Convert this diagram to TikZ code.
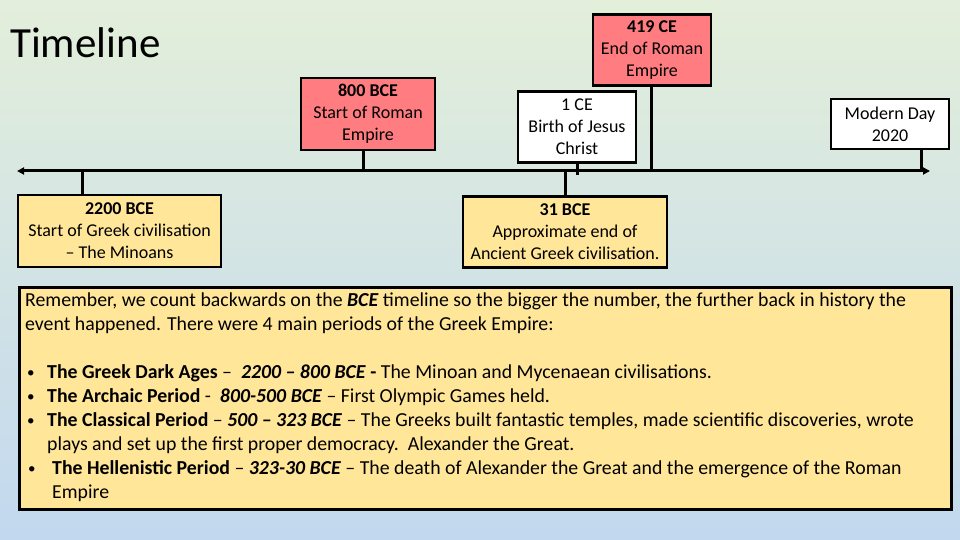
\documentclass[tikz,border=0pt]{standalone}
\usepackage{fontspec}
\setmainfont{Carlito}
\usetikzlibrary{arrows.meta, positioning, calc}
\definecolor{tlyellow}{HTML}{FFE699}
\definecolor{tlred}{HTML}{FF7C80}
\definecolor{bgtop}{HTML}{E3EFDA}
\definecolor{bgbot}{HTML}{C2D8EF}
\newcommand{\tlbullet}[1]{\hspace*{#1}\makebox[20pt][l]{\raisebox{1pt}{\fontsize{15}{15}\selectfont\textbullet}}}

\begin{document}
\begin{tikzpicture}[
    x=1pt, y=-1pt,
    box/.style={draw=black, line width=2.5pt, align=center, inner sep=2pt,
                font=\fontsize{18}{22}\selectfont},
    greek/.style={box, fill=tlyellow, minimum width=203pt, minimum height=72pt},
    roman/.style={box, fill=tlred, minimum width=118pt, minimum height=71pt},
    plain/.style={box, fill=white, minimum width=118pt, minimum height=71pt},
    stem/.style={draw=black, line width=3pt},
    tline/.style={draw=black, line width=3pt,
                  {Triangle[length=7pt,width=7pt]}-{Triangle[length=7pt,width=7pt]}}
  ]
    \useasboundingbox (0,0) rectangle (960,540);
    \shade[top color=bgtop, bottom color=bgbot] (0,0) rectangle (960,540);

    \node[anchor=base west, inner sep=0, font=\fontsize{43}{50}\selectfont] (title) at (10,58) {Timeline};

    % the line and the points on it
    \coordinate (tl) at (17,171);
    \coordinate (tr) at (930,171);
    \coordinate (s2200) at (82,171);
    \coordinate (s800) at (363,171);
    \coordinate (s31) at (565,171);
    \coordinate (s1) at (577,175);
    \coordinate (s419) at (651,171);
    \coordinate (snow) at (921,171);
    \draw[tline] (tl) -- (tr);

    \node[greek] (b2200) at (119.5,231) {\textbf{2200 BCE}\\Start of Greek civilisation\\– The Minoans};
    \node[roman, minimum width=134pt, minimum height=72pt] (b800) at (368,114) {\textbf{800 BCE}\\Start of Roman\\Empire};
    \node[roman] (b419) at (652,50) {\textbf{419 CE}\\End of Roman\\Empire};
    \node[plain] (b1) at (577,127) {1 CE\\Birth of Jesus\\Christ};
    \node[plain, minimum height=50pt] (bnow) at (890,124) {Modern Day\\2020};
    \node[greek, minimum width=204pt, minimum height=71pt] (b31) at (565,232) {\textbf{31 BCE}\\Approximate end of\\Ancient Greek civilisation.};

    \draw[stem] (s2200) -- (s2200 |- b2200.north);
    \draw[stem] (s800 |- b800.south) -- (s800);
    \draw[stem] (s31) -- (s31 |- b31.north);
    \draw[stem] (s1 |- b1.south) -- (s1);
    \draw[stem] (s419 |- b419.south) -- (s419);
    \draw[stem] (snow |- bnow.south) -- (snow);

    % notes on the periods
    \node[draw=black, line width=2.5pt, fill=tlyellow, anchor=north west,
          minimum width=932pt, minimum height=222pt] (notes) at (18,286) {};
    \node[anchor=north west, inner sep=0, align=left,
          font=\fontsize{19.8}{24}\selectfont] (notestext) at (25,293)
      {Remember, we count backwards on the \textbf{\textit{BCE}} timeline so the bigger the number, the further back in history the\\
       event happened. There were 4 main periods of the Greek Empire:\\[24pt]
       \tlbullet{2pt}\textbf{The Greek Dark Ages} – \ \textbf{\textit{2200 – 800 BCE}} \textbf{-} The Minoan and Mycenaean civilisations.\\
       \tlbullet{2pt}\textbf{The Archaic Period} - \ \textbf{\textit{800-500 BCE}} – First Olympic Games held.\\
       \tlbullet{2pt}\textbf{The Classical Period} – \textbf{\textit{500 – 323 BCE}} – The Greeks built fantastic temples, made scientific discoveries, wrote\\
       \hspace*{22pt}plays and set up the first proper democracy.\ \ Alexander the Great.\\
       \tlbullet{3pt}\hspace{4pt}\textbf{The Hellenistic Period} – \textbf{\textit{323-30 BCE}} – The death of Alexander the Great and the emergence of the Roman\\
       \hspace*{27pt}Empire};
  \end{tikzpicture}
\end{document}
